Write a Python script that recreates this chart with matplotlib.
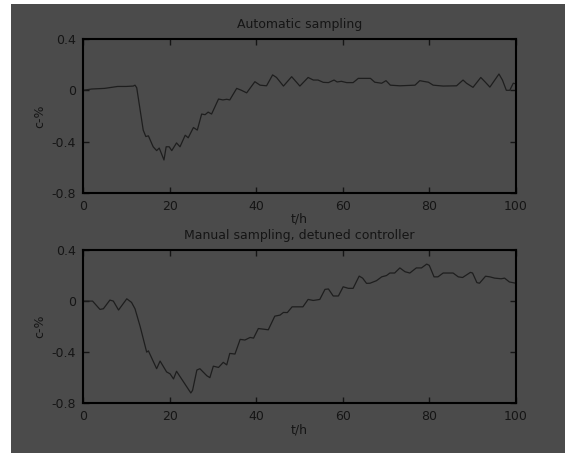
import matplotlib
matplotlib.use("Agg")
import matplotlib.pyplot as plt
from matplotlib.patches import Rectangle

# automatic sampling run
t_auto = [0, 2, 5, 8, 10, 11.6, 12, 12.4, 13.9, 14.5, 15.1, 16.2, 17.0, 17.6, 18.7, 19.2,
          19.9, 20.5, 21.6, 22.4, 23.6, 24.3, 25.5, 26.4, 27.4, 28.2, 28.9, 29.7, 31.3,
          32.3, 33.2, 33.9, 35.5, 36.6, 37.8, 39.7, 40.9, 42.4, 43.8, 44.7, 46.3, 48.2,
          50.1, 52.0, 53.2, 54.3, 55.5, 56.7, 58.0, 58.7, 59.7, 60.9, 62.4, 63.6, 65.2,
          66.4, 67.4, 69.0, 70.0, 71.0, 73.2, 76.7, 77.8, 78.6, 79.8, 80.9, 83.2, 86.3,
          87.8, 88.6, 90.1, 91.9, 92.9, 94.0, 96.1, 96.9, 97.8, 98.6, 99.4, 100]
c_auto = [0, 0.01, 0.015, 0.03, 0.03, 0.033, 0.04, 0.02, -0.31, -0.36, -0.355, -0.44, -0.47,
          -0.45, -0.543, -0.44, -0.44, -0.47, -0.41, -0.44, -0.35, -0.37, -0.29, -0.31,
          -0.185, -0.19, -0.17, -0.185, -0.068, -0.075, -0.07, -0.075, 0.015, 0.0, -0.02,
          0.067, 0.04, 0.035, 0.12, 0.1, 0.033, 0.106, 0.033, 0.1, 0.08, 0.08, 0.062, 0.06,
          0.08, 0.065, 0.07, 0.06, 0.06, 0.093, 0.093, 0.093, 0.063, 0.055, 0.075, 0.04,
          0.035, 0.04, 0.075, 0.07, 0.063, 0.04, 0.033, 0.035, 0.08, 0.055, 0.023, 0.1,
          0.065, 0.025, 0.127, 0.08, 0.0, 0.0, 0.055, 0.05]

# manual sampling, detuned controller
t_man = [0, 2.2, 3.9, 4.7, 6.2, 7.0, 8.2, 10.1, 11.2, 12.0, 13.2, 14.7, 15.1, 17.0, 17.8,
         19.3, 20.1, 20.9, 21.6, 24.9, 25.3, 26.3, 27.0, 28.6, 29.3, 30.1, 31.3, 32.4,
         33.2, 33.9, 35.1, 36.3, 37.4, 38.6, 39.4, 40.5, 41.7, 42.8, 44.3, 45.5, 46.3,
         47.2, 48.3, 49.7, 50.8, 52.0, 53.2, 54.7, 55.9, 56.7, 57.8, 59.0, 60.1, 61.3,
         62.4, 63.8, 64.6, 65.5, 66.3, 67.8, 69.0, 70.1, 70.9, 72.0, 73.2, 74.4, 75.5,
         77.0, 78.2, 79.4, 80.0, 81.1, 82.0, 83.2, 85.5, 86.7, 87.7, 89.5, 90.0, 91.0,
         91.6, 93.0, 94.0, 95.1, 96.6, 97.4, 98.5, 100]
c_man = [0, 0, -0.065, -0.06, 0.008, 0, -0.07, 0.018, -0.01, -0.06, -0.2, -0.4, -0.39,
         -0.53, -0.47, -0.555, -0.57, -0.61, -0.55, -0.72, -0.7, -0.54, -0.53, -0.585,
         -0.6, -0.51, -0.52, -0.48, -0.5, -0.41, -0.415, -0.3, -0.305, -0.285, -0.29,
         -0.215, -0.22, -0.225, -0.118, -0.11, -0.089, -0.09, -0.045, -0.045, -0.045,
         0.013, 0.005, 0.013, 0.092, 0.095, 0.04, 0.04, 0.112, 0.1, 0.1, 0.196, 0.18,
         0.139, 0.14, 0.16, 0.19, 0.2, 0.22, 0.22, 0.26, 0.23, 0.22, 0.26, 0.26, 0.29,
         0.28, 0.19, 0.19, 0.22, 0.22, 0.19, 0.185, 0.225, 0.22, 0.145, 0.14, 0.195,
         0.19, 0.18, 0.175, 0.18, 0.15, 0.14]

titles = ["Automatic sampling", "Manual sampling, detuned controller"]
xticks = [0, 20, 40, 60, 80, 100]
yticks = [-0.8, -0.4, 0, 0.4]
yticklabels = ["-0.8", "-0.4", "0", "0.4"]

bg = "#4b4b4b"
ink = "#151515"
fs = 9

fig = plt.figure(figsize=(5.65, 4.53), dpi=100)
fig.patch.set_facecolor("white")
fig.patches.append(Rectangle((11 / 565, 0), 1, 449 / 453, transform=fig.transFigure,
                             facecolor=bg, edgecolor="none", zorder=-10))

ax1 = fig.add_axes([0.147, 0.574, 0.766, 0.340])
ax2 = fig.add_axes([0.147, 0.110, 0.766, 0.338])

for ax, t, c, title in [(ax1, t_auto, c_auto, titles[0]), (ax2, t_man, c_man, titles[1])]:
    ax.set_facecolor(bg)
    ax.plot(t, c, color="#1e1e1e", linewidth=0.9)
    ax.set_xlim(0, 100)
    ax.set_ylim(-0.8, 0.4)
    ax.set_xticks(xticks)
    ax.set_xticklabels([str(v) for v in xticks])
    ax.set_yticks(yticks)
    ax.set_yticklabels(yticklabels)
    ax.tick_params(direction="in", length=4, width=1, top=True, right=True,
                   labelsize=fs, colors=ink, pad=5)
    for s in ax.spines.values():
        s.set_linewidth(1.5)
        s.set_color("black")
    ax.set_title(title, fontsize=fs, color=ink, pad=8)
    ax.set_xlabel("t/h", fontsize=fs, color=ink, labelpad=0)
    ax.set_ylabel("c-%", fontsize=fs, color=ink, labelpad=4)

plt.savefig("out.png", dpi=100, facecolor=fig.get_facecolor())
